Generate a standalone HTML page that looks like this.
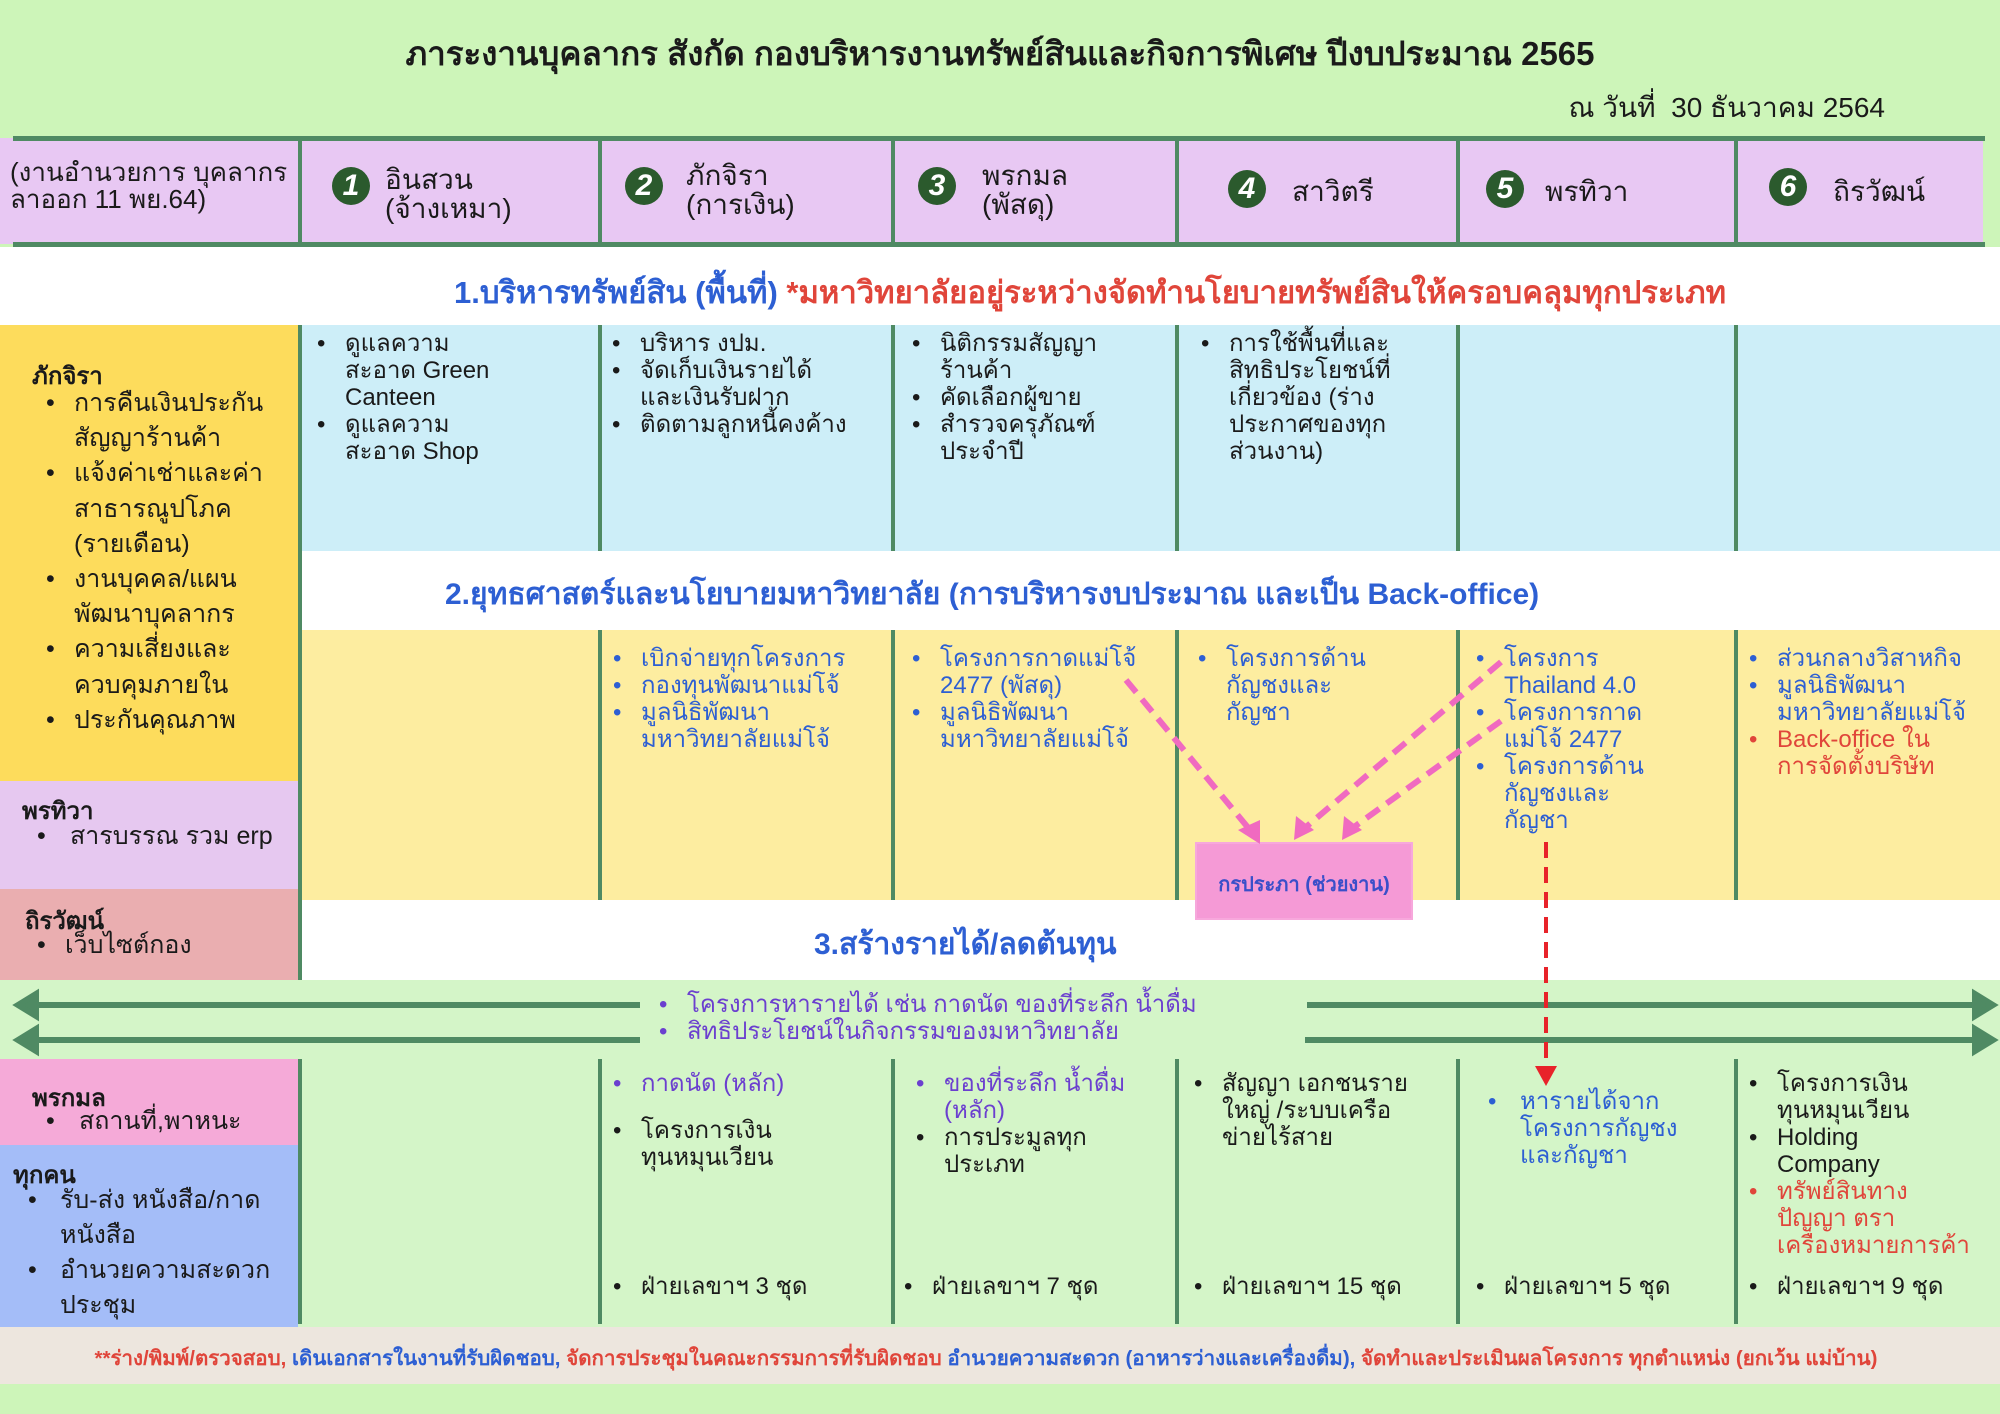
<!DOCTYPE html>
<html><head><meta charset="utf-8">
<style>
*{box-sizing:border-box}
body{margin:0;width:2000px;height:1414px;position:relative;overflow:hidden;background:#cdf5b9;font-family:"Liberation Sans",sans-serif;color:#1a1a1a}
.r{position:absolute}
.b{position:absolute;white-space:nowrap;font-size:24px;line-height:27px}
.b p{margin:0;position:relative;padding-left:28px}
.b p::before{content:"•";position:absolute;left:0}
.b p.n::before{content:""}
.vl{position:absolute;width:4px;background:#4f8a63}
.hd{position:absolute;white-space:nowrap;font-size:28px;line-height:29px}
.c{position:absolute;width:38px;height:38px;border-radius:50%;background:#2b5a2d;color:#fff;font-weight:bold;font-style:italic;font-size:30px;line-height:38px;text-align:center}
.sec{position:absolute;left:300px;right:0;text-align:center;white-space:nowrap;font-weight:bold;font-size:30px;color:#2d5fd3}
.lh{position:absolute;font-weight:bold;font-size:24px;white-space:nowrap}
.blue{color:#2d5fd3}.pur{color:#6b3fcf}.red{color:#e0453a}
</style></head><body>
<!-- title -->
<div class="r" style="left:0;right:0;top:27px;text-align:center;font-weight:bold;font-size:33px;white-space:nowrap">ภาระงานบุคลากร สังกัด กองบริหารงานทรัพย์สินและกิจการพิเศษ ปีงบประมาณ 2565</div>
<div class="r" style="right:115px;top:86px;font-size:28px;white-space:nowrap">ณ วันที่&nbsp; 30 ธันวาคม 2564</div>

<!-- header row -->
<div class="r" style="left:0;top:138px;width:1983px;height:106px;background:#e8c8f3"></div>
<div class="r" style="left:13px;top:136px;width:1972px;height:5px;background:#4f8a63"></div>
<div class="r" style="left:13px;top:242px;width:1972px;height:5px;background:#4f8a63"></div>
<div class="vl" style="left:298px;top:138px;height:106px"></div>
<div class="vl" style="left:598px;top:138px;height:106px"></div>
<div class="vl" style="left:891px;top:138px;height:106px"></div>
<div class="vl" style="left:1175px;top:138px;height:106px"></div>
<div class="vl" style="left:1456px;top:138px;height:106px"></div>
<div class="vl" style="left:1734px;top:138px;height:106px"></div>
<div class="hd" style="left:10px;top:159px;font-size:26px;line-height:27px">(งานอำนวยการ บุคลากร<br>ลาออก 11 พย.64)</div>
<div class="c" style="left:332px;top:167px">1</div><div class="hd" style="left:385px;top:165px">อินสวน<br>(จ้างเหมา)</div>
<div class="c" style="left:625px;top:167px">2</div><div class="hd" style="left:686px;top:161px">ภักจิรา<br>(การเงิน)</div>
<div class="c" style="left:918px;top:167px">3</div><div class="hd" style="left:982px;top:161px">พรกมล<br>(พัสดุ)</div>
<div class="c" style="left:1228px;top:170px">4</div><div class="hd" style="left:1292px;top:177px">สาวิตรี</div>
<div class="c" style="left:1486px;top:170px">5</div><div class="hd" style="left:1545px;top:177px">พรทิวา</div>
<div class="c" style="left:1769px;top:168px">6</div><div class="hd" style="left:1833px;top:177px">ถิรวัฒน์</div>

<!-- section 1 -->
<div class="r" style="left:0;top:247px;width:2000px;height:78px;background:#fff"></div>
<div class="sec" style="top:267px;left:454px;right:auto;font-size:31px">1.บริหารทรัพย์สิน (พื้นที่) <span class="red">*มหาวิทยาลัยอยู่ระหว่างจัดทำนโยบายทรัพย์สินให้ครอบคลุมทุกประเภท</span></div>

<!-- row1 blue -->
<div class="r" style="left:300px;top:325px;width:1700px;height:226px;background:#cdeef8"></div>
<!-- section2 white -->
<div class="r" style="left:300px;top:551px;width:1700px;height:79px;background:#fff"></div>
<div class="sec" style="top:571px;left:445px;right:auto">2.ยุทธศาสตร์และนโยบายมหาวิทยาลัย (การบริหารงบประมาณ และเป็น Back-office)</div>
<!-- row2 yellow -->
<div class="r" style="left:300px;top:630px;width:1700px;height:270px;background:#fdeda0"></div>
<!-- section3 white -->
<div class="r" style="left:300px;top:900px;width:1700px;height:80px;background:#fff"></div>
<div class="sec" style="top:921px;left:814px;right:auto">3.สร้างรายได้/ลดต้นทุน</div>
<!-- green area -->
<div class="r" style="left:0;top:980px;width:2000px;height:347px;background:#d4f5c8"></div>
<!-- footer -->
<div class="r" style="left:0;top:1327px;width:2000px;height:57px;background:#ede6de"></div>
<div class="r" style="left:0;right:28px;top:1342px;text-align:center;font-weight:bold;font-size:20.5px;white-space:nowrap"><span class="red">**ร่าง/พิมพ์/ตรวจสอบ,</span> <span class="blue">เดินเอกสารในงานที่รับผิดชอบ,</span> <span class="red">จัดการประชุมในคณะกรรมการที่รับผิดชอบ</span> <span class="blue">อำนวยความสะดวก (อาหารว่างและเครื่องดื่ม),</span> <span class="red">จัดทำและประเมินผลโครงการ ทุกตำแหน่ง (ยกเว้น แม่บ้าน)</span></div>

<!-- left panels -->
<div class="r" style="left:0;top:325px;width:298px;height:456px;background:#fddc5c"></div>
<div class="r" style="left:0;top:781px;width:298px;height:108px;background:#e6c8f0"></div>
<div class="r" style="left:0;top:889px;width:300px;height:91px;background:#eaaeb0"></div>
<div class="r" style="left:0;top:1059px;width:298px;height:86px;background:#f5aad8"></div>
<div class="r" style="left:0;top:1145px;width:298px;height:182px;background:#a4bdf8"></div>

<div class="lh" style="left:32px;top:356px">ภักจิรา</div>
<div class="b" style="left:46px;top:386px;line-height:35.2px;font-size:25px"><p>การคืนเงินประกัน</p><p class="n">สัญญาร้านค้า</p><p>แจ้งค่าเช่าและค่า</p><p class="n">สาธารณูปโภค</p><p class="n">(รายเดือน)</p><p>งานบุคคล/แผน</p><p class="n">พัฒนาบุคลากร</p><p>ความเสี่ยงและ</p><p class="n">ควบคุมภายใน</p><p>ประกันคุณภาพ</p></div>
<div class="lh" style="left:22px;top:791px">พรทิวา</div>
<div class="b" style="left:37px;top:823px;font-size:25px"><p style="padding-left:33px">สารบรรณ รวม erp</p></div>
<div class="lh" style="left:25px;top:901px">ถิรวัฒน์</div>
<div class="b" style="left:37px;top:932px;font-size:25px"><p>เว็บไซต์กอง</p></div>
<div class="lh" style="left:32px;top:1078px">พรกมล</div>
<div class="b" style="left:46px;top:1108px;font-size:25px"><p style="padding-left:33px">สถานที่,พาหนะ</p></div>
<div class="lh" style="left:13px;top:1155px">ทุกคน</div>
<div class="b" style="left:28px;top:1183px;font-size:25px;line-height:35px"><p style="padding-left:32px">รับ-ส่ง หนังสือ/กาด</p><p class="n" style="padding-left:32px">หนังสือ</p><p style="padding-left:32px">อำนวยความสะดวก</p><p class="n" style="padding-left:32px">ประชุม</p></div>

<!-- vertical dividers -->
<div class="vl" style="left:298px;top:325px;height:655px"></div>
<div class="vl" style="left:598px;top:325px;height:226px"></div><div class="vl" style="left:598px;top:630px;height:270px"></div>
<div class="vl" style="left:891px;top:325px;height:226px"></div><div class="vl" style="left:891px;top:630px;height:270px"></div>
<div class="vl" style="left:1175px;top:325px;height:226px"></div><div class="vl" style="left:1175px;top:630px;height:270px"></div>
<div class="vl" style="left:1456px;top:325px;height:226px"></div><div class="vl" style="left:1456px;top:630px;height:270px"></div>
<div class="vl" style="left:1734px;top:325px;height:226px"></div><div class="vl" style="left:1734px;top:630px;height:270px"></div>
<div class="vl" style="left:298px;top:1059px;height:265px"></div>
<div class="vl" style="left:598px;top:1059px;height:265px"></div>
<div class="vl" style="left:891px;top:1059px;height:265px"></div>
<div class="vl" style="left:1175px;top:1059px;height:265px"></div>
<div class="vl" style="left:1456px;top:1059px;height:265px"></div>
<div class="vl" style="left:1734px;top:1059px;height:265px"></div>

<!-- row1 text -->
<div class="b" style="left:317px;top:330px"><p>ดูแลความ</p><p class="n">สะอาด Green</p><p class="n">Canteen</p><p>ดูแลความ</p><p class="n">สะอาด Shop</p></div>
<div class="b" style="left:612px;top:330px"><p>บริหาร งปม.</p><p>จัดเก็บเงินรายได้</p><p class="n">และเงินรับฝาก</p><p>ติดตามลูกหนี้คงค้าง</p></div>
<div class="b" style="left:912px;top:330px"><p>นิติกรรมสัญญา</p><p class="n">ร้านค้า</p><p>คัดเลือกผู้ขาย</p><p>สำรวจครุภัณฑ์</p><p class="n">ประจำปี</p></div>
<div class="b" style="left:1201px;top:330px"><p>การใช้พื้นที่และ</p><p class="n">สิทธิประโยชน์ที่</p><p class="n">เกี่ยวข้อง (ร่าง</p><p class="n">ประกาศของทุก</p><p class="n">ส่วนงาน)</p></div>

<!-- row2 text -->
<div class="b blue" style="left:613px;top:645px"><p>เบิกจ่ายทุกโครงการ</p><p>กองทุนพัฒนาแม่โจ้</p><p>มูลนิธิพัฒนา</p><p class="n">มหาวิทยาลัยแม่โจ้</p></div>
<div class="b blue" style="left:912px;top:645px"><p>โครงการกาดแม่โจ้</p><p class="n">2477 (พัสดุ)</p><p>มูลนิธิพัฒนา</p><p class="n">มหาวิทยาลัยแม่โจ้</p></div>
<div class="b blue" style="left:1198px;top:645px"><p>โครงการด้าน</p><p class="n">กัญชงและ</p><p class="n">กัญชา</p></div>
<div class="b blue" style="left:1476px;top:645px"><p>โครงการ</p><p class="n">Thailand 4.0</p><p>โครงการกาด</p><p class="n">แม่โจ้ 2477</p><p>โครงการด้าน</p><p class="n">กัญชงและ</p><p class="n">กัญชา</p></div>
<div class="b blue" style="left:1749px;top:645px"><p>ส่วนกลางวิสาหกิจ</p><p>มูลนิธิพัฒนา</p><p class="n">มหาวิทยาลัยแม่โจ้</p><p class="red">Back-office ใน</p><p class="n red">การจัดตั้งบริษัท</p></div>

<!-- pink box -->
<div class="r" style="left:1195px;top:842px;width:218px;height:78px;background:#f59ad6;border:2px solid #f7a8dc"></div>
<div class="r" style="left:1195px;top:868px;width:218px;text-align:center;font-weight:bold;font-size:20px;color:#3a4fc9;white-space:nowrap">กรประภา (ช่วยงาน)</div>

<!-- arrows -->
<svg class="r" style="left:0;top:0" width="2000" height="1414">
<g stroke="#4f8a63" stroke-width="6" fill="#4f8a63">
<line x1="640" y1="1005" x2="32" y2="1005"/><path d="M18,1005 L36,994 L36,1016 z"/>
<line x1="640" y1="1040" x2="32" y2="1040"/><path d="M18,1040 L36,1029 L36,1051 z"/>
<line x1="1307" y1="1005" x2="1978" y2="1005"/><path d="M1993,1005 L1975,994 L1975,1016 z"/>
<line x1="1305" y1="1040" x2="1978" y2="1040"/><path d="M1993,1040 L1975,1029 L1975,1051 z"/>
</g>
<g stroke="#f06ac0" stroke-width="6" stroke-dasharray="16,9" fill="none">
<line x1="1126" y1="680" x2="1250" y2="830"/>
<line x1="1501" y1="662" x2="1306" y2="827"/>
<line x1="1501" y1="721" x2="1354" y2="827"/>
</g>
<g fill="#f06ac0">
<path d="M1260,844 L1238,830 L1260,820 z"/>
<path d="M1294,840 L1296,816 L1314,830 z"/>
<path d="M1342,840 L1344,816 L1362,830 z"/>
</g>
<line x1="1546" y1="842" x2="1546" y2="1070" stroke="#e8232a" stroke-width="4" stroke-dasharray="16,9"/>
<path d="M1535,1066 L1557,1066 L1546,1086 z" fill="#e8232a"/>
</svg>
<div class="b pur" style="left:659px;top:991px"><p>โครงการหารายได้ เช่น กาดนัด ของที่ระลึก น้ำดื่ม</p><p>สิทธิประโยชน์ในกิจกรรมของมหาวิทยาลัย</p></div>

<!-- bottom row text -->
<div class="b" style="left:613px;top:1070px"><p class="pur">กาดนัด (หลัก)</p><p style="margin-top:20px">โครงการเงิน</p><p class="n">ทุนหมุนเวียน</p></div>
<div class="b" style="left:613px;top:1273px"><p>ฝ่ายเลขาฯ 3 ชุด</p></div>
<div class="b" style="left:916px;top:1070px"><p class="pur">ของที่ระลึก น้ำดื่ม</p><p class="n pur">(หลัก)</p><p>การประมูลทุก</p><p class="n">ประเภท</p></div>
<div class="b" style="left:904px;top:1273px"><p>ฝ่ายเลขาฯ 7 ชุด</p></div>
<div class="b" style="left:1194px;top:1070px"><p>สัญญา เอกชนราย</p><p class="n">ใหญ่ /ระบบเครือ</p><p class="n">ข่ายไร้สาย</p></div>
<div class="b" style="left:1194px;top:1273px"><p>ฝ่ายเลขาฯ 15 ชุด</p></div>
<div class="b blue" style="left:1488px;top:1088px"><p style="padding-left:32px">หารายได้จาก</p><p class="n" style="padding-left:32px">โครงการกัญชง</p><p class="n" style="padding-left:32px">และกัญชา</p></div>
<div class="b" style="left:1476px;top:1273px"><p>ฝ่ายเลขาฯ 5 ชุด</p></div>
<div class="b" style="left:1749px;top:1070px"><p>โครงการเงิน</p><p class="n">ทุนหมุนเวียน</p><p>Holding</p><p class="n">Company</p><p class="red">ทรัพย์สินทาง</p><p class="n red">ปัญญา ตรา</p><p class="n red">เครื่องหมายการค้า</p></div>
<div class="b" style="left:1749px;top:1273px"><p>ฝ่ายเลขาฯ 9 ชุด</p></div>
</body></html>
